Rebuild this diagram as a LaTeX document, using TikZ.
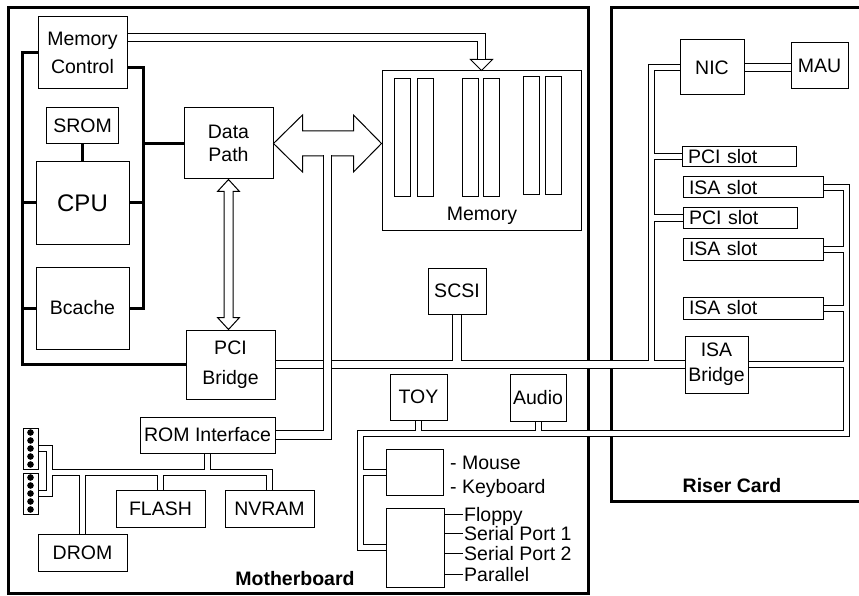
\documentclass[tikz,border=0pt]{standalone}
\usepackage{fontspec}
\setmainfont{Liberation Sans}
\usetikzlibrary{calc,backgrounds}

\tikzset{
  box/.style={draw, line width=1pt, inner sep=0pt, align=center},
  slotbox/.style={draw, line width=1pt, inner sep=0pt, inner xsep=6pt, align=left},
  pinlabel/.style={inner sep=0pt, inner xsep=1pt, text height=14pt, text depth=0pt, anchor=west},
  frame/.style={draw, line width=3pt},
  cpubus/.style={draw, line width=3pt},
  bus/.style={draw, line width=1pt, double, double distance=7.5pt},
  thinbus/.style={draw, line width=1pt, double, double distance=5pt},
  hollow/.style={draw, line width=1pt, fill=white},
}

\begin{document}
\begin{tikzpicture}[x=1pt, y=-1pt, font=\fontsize{19.5}{26}\selectfont]
\useasboundingbox (0,0) rectangle (859,596);

% processor side
\node[box, minimum width=89pt, minimum height=72pt] (mc) at (82.5,53) {Memory\\[2pt]Control};
\node[box, minimum width=72pt, minimum height=36pt] (srom) at (82.5,126) {SROM};
\node[box, minimum width=93pt, minimum height=82pt, font=\fontsize{24}{28}\selectfont] (cpu) at (82.5,203) {CPU};
\node[box, minimum width=93pt, minimum height=82pt] (bc) at (82.5,308) {Bcache};
\node[box, minimum width=89pt, minimum height=71pt] (dp) at (228.5,143.5) {Data\\[-3pt]Path};
\node[box, minimum width=199pt, minimum height=159pt] (mem) at (481.5,150.5) {};
\node[anchor=base] (memlabel) at (482,220) {Memory};
\foreach \sx in {394,417,462,483}
  \draw[line width=1pt] (\sx,79) rectangle ++(16,118);
\foreach \sx in {523,545}
  \draw[line width=1pt] (\sx,77) rectangle ++(16,118);
\node[box, minimum width=89pt, minimum height=69pt] (pci) at (230.5,364.5) {PCI\\[4pt]Bridge};
\node[box, minimum width=58pt, minimum height=46pt] (scsi) at (457,291) {SCSI};

% ROM side
\node[box, minimum width=135pt, minimum height=36pt] (rom) at (207.5,435) {ROM Interface};
\node[box, minimum width=89pt, minimum height=37pt] (flash) at (160.5,508.5) {FLASH};
\node[box, minimum width=89pt, minimum height=37pt] (nvram) at (269.5,508.5) {NVRAM};
\node[box, minimum width=89pt, minimum height=37pt] (drom) at (82.5,552.5) {DROM};
\node[box, minimum width=15pt, minimum height=41pt] (hdra) at (30.5,448.5) {};
\node[box, minimum width=15pt, minimum height=41pt] (hdrb) at (30.5,493.5) {};
\foreach \dy in {-16,-8,0,8,16} {
  \fill ($(hdra)+(0,\dy)$) circle (3.3pt);
  \fill ($(hdrb)+(0,\dy)$) circle (3.3pt);
}

% X bus devices
\node[box, minimum width=57pt, minimum height=46pt] (toy) at (418.5,397) {TOY};
\node[box, minimum width=56pt, minimum height=47pt] (audio) at (538,397.5) {Audio};
\node[box, minimum width=57pt, minimum height=46pt] (kb) at (414.5,472) {};
\node[box, minimum width=58pt, minimum height=79pt] (sio) at (415,547.5) {};
\node[pinlabel] (mouse) at (449,462) {- Mouse};
\node[pinlabel] (keyb) at (449,486) {- Keyboard};
\node[pinlabel] (floppy) at (463,514) {Floppy};
\node[pinlabel] (sera) at (463,533.5) {Serial Port 1};
\node[pinlabel] (serb) at (463,553.5) {Serial Port 2};
\node[pinlabel] (par) at (463,574) {Parallel};
\foreach \p in {floppy,sera,serb,par}
  \draw[line width=1pt] (\p.west -| sio.east) -- (\p.west);

% riser card
\node[box, minimum width=64pt, minimum height=55pt] (nic) at (712,67.5) {NIC};
\node[box, minimum width=57pt, minimum height=46pt] (mau) at (819.5,66) {MAU};
\node[slotbox, text width=102pt, minimum height=20pt] (psa) at (739,157) {PCI slot};
\node[slotbox, text width=128pt, minimum height=21pt] (isaa) at (753,187.5) {ISA slot};
\node[slotbox, text width=102pt, minimum height=20pt] (psb) at (740,218) {PCI slot};
\node[slotbox, text width=128pt, minimum height=22pt] (isab) at (753,249) {ISA slot};
\node[slotbox, text width=128pt, minimum height=22pt] (isac) at (753,308) {ISA slot};
\node[box, minimum width=63pt, minimum height=57pt] (isabr) at (716.5,364.5) {ISA\\[-1pt]Bridge};

\node[font=\fontsize{19.5}{26}\selectfont\bfseries] (mblabel) at (295,579) {Motherboard};
\node[font=\fontsize{19.5}{26}\selectfont\bfseries] (rclabel) at (732,486) {Riser Card};

% bus routes
\coordinate (lbus) at (22,0);
\coordinate (rbus) at (143,0);
\coordinate (trunk) at (651.5,0);
\coordinate (isacol) at (846.5,0);
\coordinate (xrow) at (0,433);
\coordinate (xcol) at (360,0);
\coordinate (romcol) at (49,0);
\coordinate (romrow) at (0,472);
\coordinate (pcitee) at (trunk |- pci.east);
\coordinate (arrowmid) at ($(dp.east)!0.5!(mem.west |- dp.east)$);

\begin{scope}[on background layer]
% boards
\draw[frame] (8,8) rectangle (588,593);
\draw[frame] (611,8) rectangle (870,501);
% processor buses
\draw[cpubus] (mc.west) -| (lbus |- pci.west) -- (pci.west);
\draw[cpubus] (cpu.west) -- (cpu.west -| lbus) (bc.west) -- (bc.west -| lbus);
\draw[cpubus] ([yshift=-15pt]mc.east) -| (rbus |- bc.east) -- (bc.east);
\draw[cpubus] (cpu.east) -- (cpu.east -| rbus) (dp.west) -- (dp.west -| rbus);
\draw[cpubus] (srom.south) -- (cpu.north);
% data path arrows
\draw[hollow] (dp.east) -- ++(29,-28.5) -- ++(0,16) -- ($(mem.west |- dp.east)+(-28,-12.5)$)
  -- ++(0,-16) -- (mem.west |- dp.east) -- ++(-28,28.5) -- ++(0,-16)
  -- ($(dp.east)+(29,12.5)$) -- ++(0,16) -- cycle;
\draw[hollow] (dp.south) -- ++(11,12) -- ++(-6.5,0) -- ($(dp.south |- pci.north)+(4.5,-12)$)
  -- ++(6.5,0) -- (dp.south |- pci.north) -- ++(-11,-12) -- ++(6.5,0)
  -- ($(dp.south)+(-4.5,12)$) -- ++(-6.5,0) -- cycle;
\draw[hollow] (mem.north) -- ++(-11,-11) -- ++(22,0) -- cycle;
% PCI bus
\draw[bus] (pci.east) -- (isabr.west) (scsi.south) -- (scsi.south |- pci.east);
\draw[thinbus] (nic.west) -| ([yshift=3.75pt]pcitee) (psa.west) -- (psa.west -| trunk)
  (psb.west) -- (psb.west -| trunk);
\draw[bus] (nic.east) -- (nic.east -| mau.west);
% ISA and X bus
\draw[thinbus] (isaa.east) -| (isacol |- xrow) -| (xcol |- sio.west) -- (sio.west)
  (isab.east) -- (isab.east -| isacol) (isac.east) -- (isac.east -| isacol)
  (isabr.east) -- (isabr.east -| isacol) (toy.south) -- (toy.south |- xrow)
  (audio.south) -- (audio.south |- xrow) (kb.west) -- (kb.west -| xcol);
% ROM bus
\draw[thinbus] (hdra.east) -| (romcol |- hdrb.east) -- (hdrb.east)
  (romcol |- romrow) -| (nvram.north) (rom.south) -- (rom.south |- romrow)
  (flash.north) -- (flash.north |- romrow) (drom.north) -- (drom.north |- romrow);
\draw[bus] (rom.east) -| ([yshift=-12pt]arrowmid);
% memory bus
\draw[bus] ([yshift=15.5pt]mc.east) -| ([yshift=11.5pt]mem.north);
\end{scope}
\end{tikzpicture}
\end{document}
